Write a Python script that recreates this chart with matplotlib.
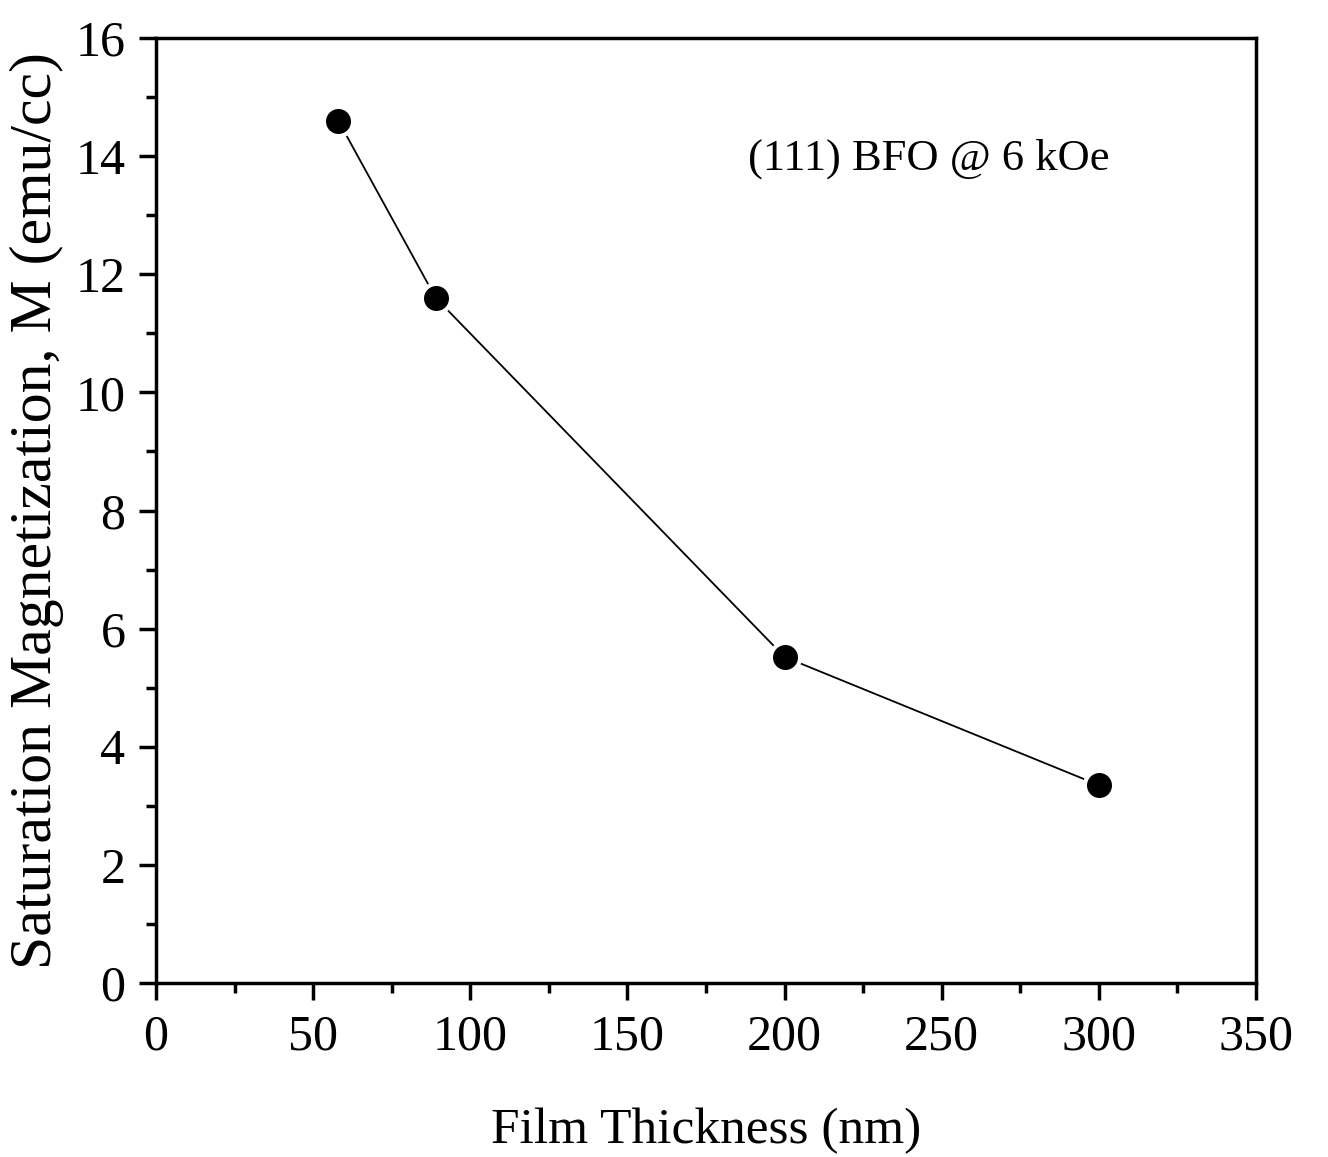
import matplotlib
matplotlib.use("Agg")
import matplotlib.pyplot as plt
from matplotlib.ticker import MultipleLocator

# film thickness (nm) vs saturation magnetization (emu/cc)
thickness = [58, 89, 200, 300]
magnetization = [14.6, 11.6, 5.52, 3.35]

plt.rcParams["font.family"] = ["Liberation Serif", "DejaVu Serif"]

fig = plt.figure(figsize=(13.28, 11.57), dpi=100)
ax = fig.add_axes([156 / 1328, 1 - 983 / 1157, 1100 / 1328, 945 / 1157])

ax.plot(thickness, magnetization, color="black", lw=1.3, zorder=1)
ax.plot(thickness, magnetization, "o", color="black", ms=21, zorder=2,
        markeredgecolor="white", markeredgewidth=3)

ax.set_xlim(0, 350)
ax.set_ylim(0, 16)
ax.xaxis.set_major_locator(MultipleLocator(50))
ax.xaxis.set_minor_locator(MultipleLocator(25))
ax.yaxis.set_major_locator(MultipleLocator(2))
ax.yaxis.set_minor_locator(MultipleLocator(1))
ax.tick_params(which="both", direction="out", width=2.5, labelsize=36,
               top=False, right=False)
ax.tick_params(which="major", length=12, pad=10)
ax.tick_params(which="minor", length=7)
for s in ax.spines.values():
    s.set_linewidth(2.5)

ax.set_xlabel("Film Thickness (nm)", fontsize=37, labelpad=34)
ax.set_ylabel("Saturation Magnetization, M (emu/cc)", fontsize=43, labelpad=8)
ax.text(246, 13.95, "(111) BFO @ 6 kOe", fontsize=32, ha="center", va="center")

fig.savefig("out.png", dpi=100)
